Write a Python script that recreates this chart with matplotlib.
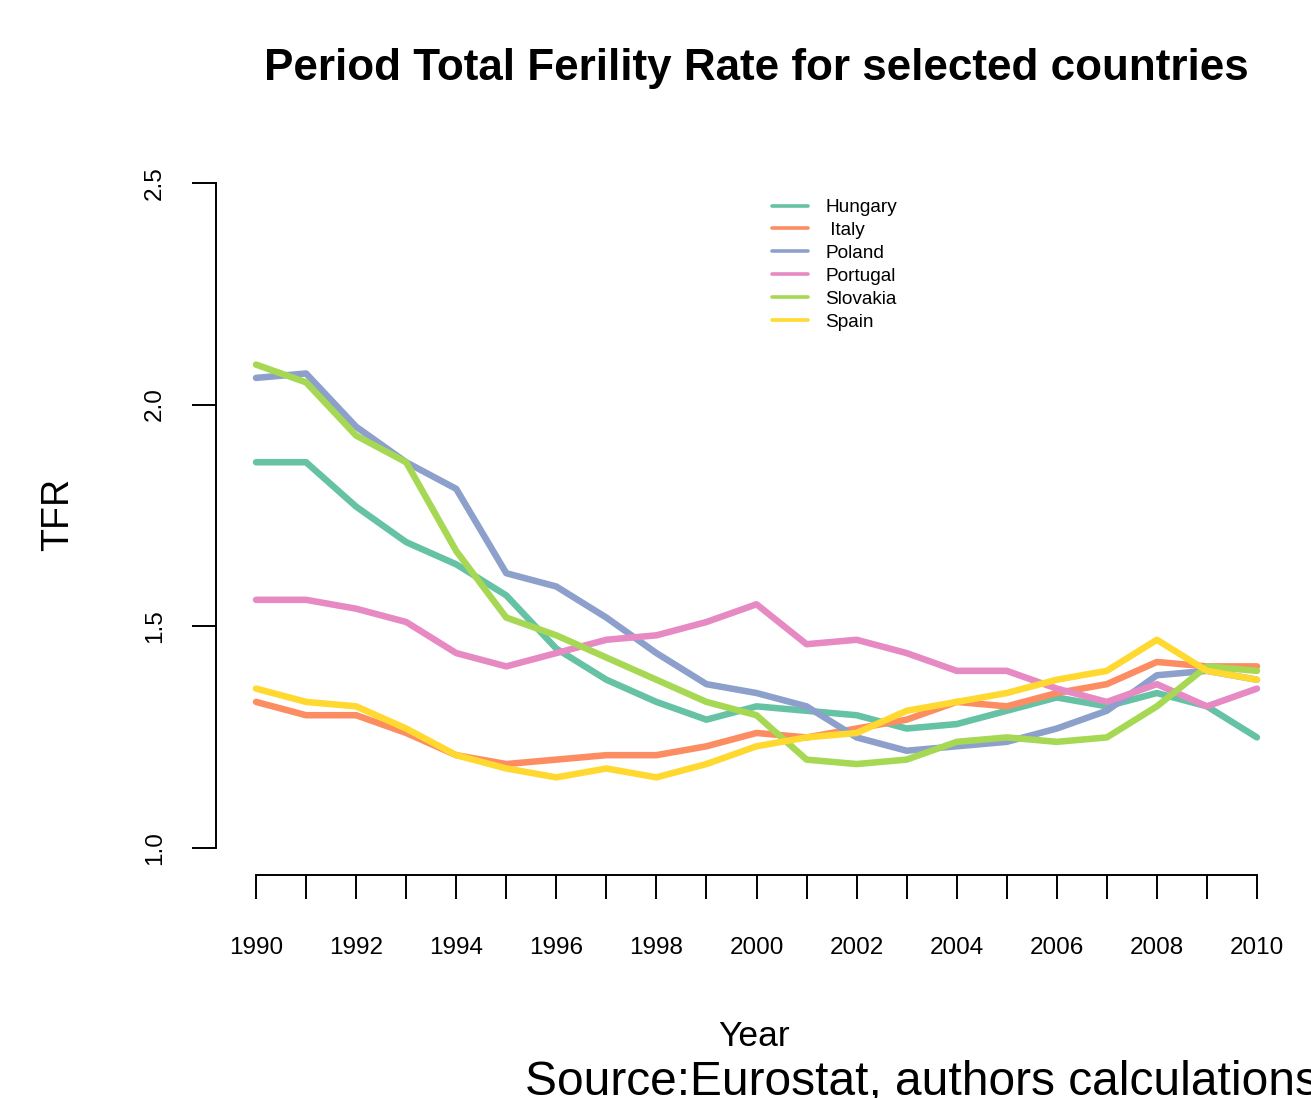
import matplotlib
matplotlib.use('Agg')
import matplotlib.pyplot as plt

plt.rcParams['font.family'] = ['Liberation Sans', 'DejaVu Sans']

years = list(range(1990, 2011))
countries = ['Hungary', ' Italy', 'Poland', 'Portugal', 'Slovakia', 'Spain']
hungary  = [1.87, 1.87, 1.77, 1.69, 1.64, 1.57, 1.45, 1.38, 1.33, 1.29, 1.32, 1.31, 1.30, 1.27, 1.28, 1.31, 1.34, 1.32, 1.35, 1.32, 1.25]
italy    = [1.33, 1.30, 1.30, 1.26, 1.21, 1.19, 1.20, 1.21, 1.21, 1.23, 1.26, 1.25, 1.27, 1.29, 1.33, 1.32, 1.35, 1.37, 1.42, 1.41, 1.41]
poland   = [2.06, 2.07, 1.95, 1.87, 1.81, 1.62, 1.59, 1.52, 1.44, 1.37, 1.35, 1.32, 1.25, 1.22, 1.23, 1.24, 1.27, 1.31, 1.39, 1.40, 1.38]
portugal = [1.56, 1.56, 1.54, 1.51, 1.44, 1.41, 1.44, 1.47, 1.48, 1.51, 1.55, 1.46, 1.47, 1.44, 1.40, 1.40, 1.36, 1.33, 1.37, 1.32, 1.36]
slovakia = [2.09, 2.05, 1.93, 1.87, 1.67, 1.52, 1.48, 1.43, 1.38, 1.33, 1.30, 1.20, 1.19, 1.20, 1.24, 1.25, 1.24, 1.25, 1.32, 1.41, 1.40]
spain    = [1.36, 1.33, 1.32, 1.27, 1.21, 1.18, 1.16, 1.18, 1.16, 1.19, 1.23, 1.25, 1.26, 1.31, 1.33, 1.35, 1.38, 1.40, 1.47, 1.40, 1.38]
series = [hungary, italy, poland, portugal, slovakia, spain]
colors = ['#66C2A5', '#FC8D62', '#8DA0CB', '#E78AC3', '#A6D854', '#FFD92F']

W, H = 1311, 1098
fig = plt.figure(figsize=(W/100, H/100), dpi=100)
ax = fig.add_axes([216/W, (H-875)/H, (1297-216)/W, (875-156)/H])

for vals, c, name in zip(series, colors, countries):
    ax.plot(years, vals, color=c, linewidth=4.7, label=name,
            solid_capstyle='round', solid_joinstyle='round')

ax.set_xlim(1989.2, 2010.8)
ax.set_ylim(0.94, 2.56)
for s in ['top', 'right']:
    ax.spines[s].set_visible(False)
ax.spines['left'].set_bounds(1.0, 2.5)
ax.spines['bottom'].set_bounds(1990, 2010)
ax.spines['bottom'].set_linewidth(1.4)
ax.spines['left'].set_linewidth(1.4)

ax.set_xticks(years)
ax.set_xticklabels([str(y) if y % 2 == 0 else '' for y in years])
ax.set_yticks([1.0, 1.5, 2.0, 2.5])
ax.set_yticklabels(['1.0', '1.5', '2.0', '2.5'], rotation=90, va='center')
ax.tick_params(axis='x', length=17, width=1.4, pad=28, labelsize=17.5)
ax.tick_params(axis='y', length=17, width=1.4, pad=19, labelsize=17.5)

fig.text(756/W, 1 - 80/H, 'Period Total Ferility Rate for selected countries',
         ha='center', va='baseline', fontsize=31.7, fontweight='bold')
fig.text(58/W, 1 - 514/H, 'TFR', rotation=90, ha='center', va='center', fontsize=27)
fig.text(754/W, 1 - 1046/H, 'Year', ha='center', va='baseline', fontsize=25.5)
# the reference itself runs this line off the right edge
fig.text(525/W, 1 - 1095/H, 'Source:Eurostat, authors calculations',
         ha='left', va='baseline', fontsize=34.5)

leg = ax.legend(loc='upper left', bbox_to_anchor=(772/W, 1 - 199/H), bbox_transform=fig.transFigure,
                frameon=False, fontsize=13.7, handlelength=1.9, handletextpad=0.9,
                labelspacing=0.29, borderpad=0, borderaxespad=0)
for line in leg.get_lines():
    line.set_linewidth(2.6)

fig.savefig('out.png', dpi=100)
